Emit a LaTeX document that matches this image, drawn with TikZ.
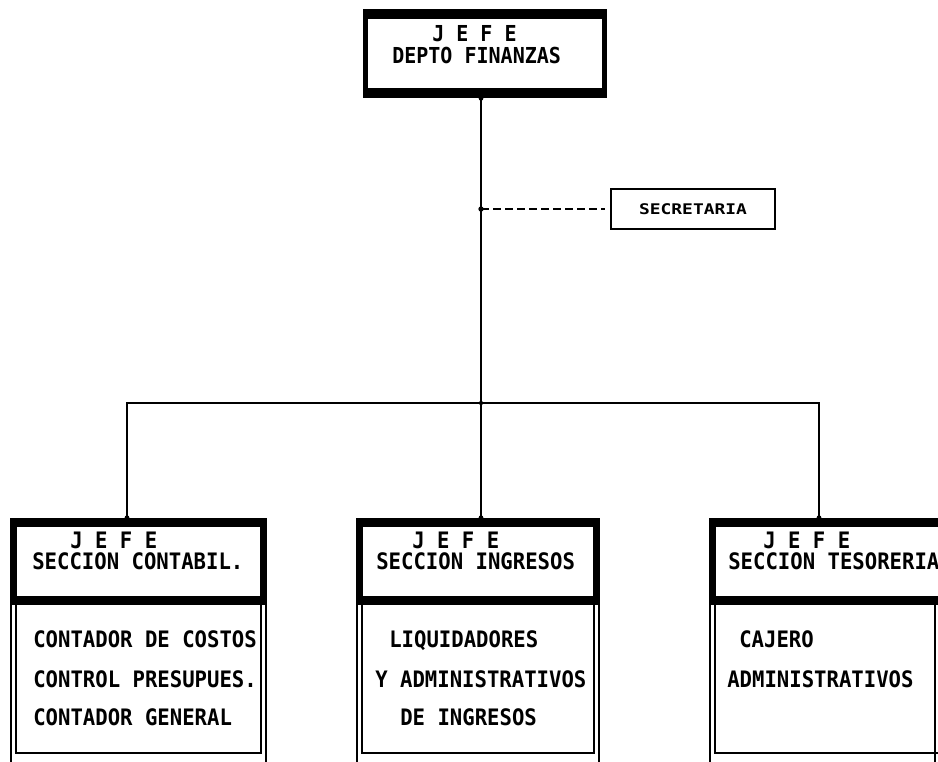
\documentclass[tikz,border=0pt]{standalone}
\usepackage{fontspec}
\usetikzlibrary{fit}
\newfontfamily\orgf{DejaVu Sans Mono}[FakeStretch=0.91]
\newfontfamily\secf{DejaVu Sans Mono}[FakeStretch=1.22]
\newcommand\orgsec[3]{%
  \node[fit={(#2,518)(#3,753)}, inner sep=0pt] (#1) {};
  \fill (#2,518) rectangle (#3,527);
  \fill (#2,518) rectangle (#2+7,605);
  \fill (#3-7,518) rectangle (#3,605);
  \fill (#2,596) rectangle (#3,605);
  \draw[thinline] (#2+1,605) -- (#2+1,775);
  \draw[thinline] (#3-1,605) -- (#3-1,775);
  \draw[thinline] (#2+6,605) -- (#2+6,753) -- (#3-6,753) -- (#3-6,605);
}
\begin{document}
\begin{tikzpicture}[x=0.75pt,y=-0.75pt,
  txt/.style={font=\orgf\bfseries\fontsize{17}{20}\selectfont, anchor=base west, inner sep=0pt},
  toptxt/.style={font=\orgf\bfseries\fontsize{16.5}{19}\selectfont, anchor=base west, inner sep=0pt},
  thinline/.style={line width=1.1pt},
  conn/.style={line width=1.5pt},
  knob/.style={fill=black}]
\useasboundingbox (0,0) rectangle (938,761);
\clip (0,0) rectangle (938,761);
\fill[white] (0,0) rectangle (938,761);

% top box
\node[fit={(363,9)(607,98)}, inner sep=0pt] (top) {};
\fill (363,9) rectangle (607,19);
\fill (363,88) rectangle (607,98);
\fill (363,19) rectangle (368,88);
\fill (602,19) rectangle (607,88);
\node[toptxt] (t0a) at (432,41) {J E F E};
\node[toptxt] (t0b) at (392,63) {DEPTO FINANZAS};

% secretaria
\node[draw, line width=1.4pt, minimum width=123pt, minimum height=30pt, inner sep=0pt,
      font=\secf\bfseries\fontsize{11}{13}\selectfont] (sec) at (693,209) {SECRETARIA};

% section boxes
\orgsec{cont}{10}{267}
\orgsec{ing}{356}{600}
\orgsec{tes}{709}{955}
\draw[thinline] (935,605) -- (935,775);

\node[txt] (t1a) at (70,548) {J E F E};
\node[txt] (t1b) at (32,569) {SECCION CONTABIL.};
\node[txt] (t1c) at (33,647) {CONTADOR DE COSTOS};
\node[txt] (t1d) at (33,687) {CONTROL PRESUPUES.};
\node[txt] (t1e) at (33,725) {CONTADOR GENERAL};

\node[txt] (t2a) at (412,548) {J E F E};
\node[txt] (t2b) at (376,569) {SECCION INGRESOS};
\node[txt] (t2c) at (389,647) {LIQUIDADORES};
\node[txt] (t2d) at (375,687) {Y ADMINISTRATIVOS};
\node[txt] (t2e) at (400,725) {DE INGRESOS};

\node[txt] (t3a) at (763,548) {J E F E};
\node[txt] (t3b) at (728,569) {SECCION TESORERIA};
\node[txt] (t3c) at (739,647) {CAJERO};
\node[txt] (t3d) at (727,687) {ADMINISTRATIVOS};

% connectors
\coordinate (bus) at (481,403);
\coordinate (dropL) at (127,403);
\coordinate (dropR) at (819,403);
\draw[conn] (bus |- top.south) -- (bus);
\draw[conn] (dropL |- cont.north) -- (dropL) -- (dropR) -- (dropR |- tes.north);
\draw[conn] (bus) -- (bus |- ing.north);
\draw[conn, dash pattern=on 6pt off 3pt] (bus |- sec.west) -- ([xshift=-4pt]sec.west);

\fill[knob] (bus |- top.south) circle (1.8pt);
\fill[knob] (bus |- sec.west) circle (2pt);
\fill[knob] (bus) circle (1.6pt);
\fill[knob] (dropL |- cont.north) circle (1.8pt);
\fill[knob] (bus |- ing.north) circle (1.8pt);
\fill[knob] (dropR |- tes.north) circle (1.8pt);
\end{tikzpicture}
\end{document}
